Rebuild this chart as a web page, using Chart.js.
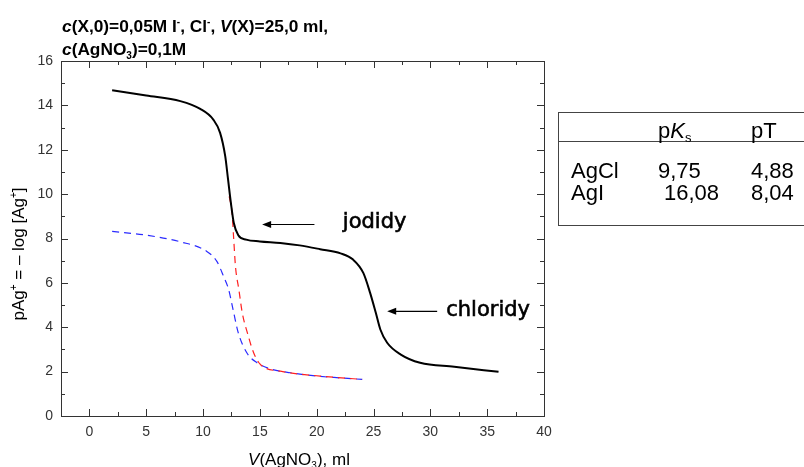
<!DOCTYPE html>
<html>
<head>
<meta charset="utf-8">
<script src="https://cdn.jsdelivr.net/npm/chart.js@4.4.0/dist/chart.umd.min.js"></script>
<style>
  html, body { margin: 0; padding: 0; background: #fff; }
  #wrap { position: relative; width: 804px; height: 467px; overflow: hidden;
          font-family: "Liberation Sans", Arial, sans-serif; color: #000; }
  #chart { position: absolute; left: 0; top: 0; }
  .title { position: absolute; left: 62px; top: 15.5px; font-size: 17.3px; font-weight: bold;
           line-height: 21px; white-space: nowrap; }
  .sup { font-size: 10px; position: relative; top: -7px; }
  .sub { font-size: 10px; position: relative; top: 4px; }
  .ytitle { position: absolute; left: -80px; top: 243px; width: 200px; text-align: center;
            font-size: 17px; line-height: 20px; white-space: nowrap; transform: rotate(-90deg); }
  .xtitle { position: absolute; left: 199px; top: 451px; width: 200px; text-align: center;
            font-size: 17px; line-height: 17px; white-space: nowrap; }
  .tbl { position: absolute; left: 558px; top: 112px; width: 300px; height: 114px;
         border: 1px solid #444; box-sizing: border-box; }
  .tbl-line { position: absolute; left: 558px; top: 141px; width: 260px; height: 1px; background: #444; }
  .cell { position: absolute; font-size: 22px; line-height: 22px; white-space: nowrap; }
</style>
</head>
<body>
<div id="wrap">
  <canvas id="chart" width="804" height="467"></canvas>
  <div class="title"><i>c</i>(X,0)=0,05M I<span class="sup">-</span>, Cl<span class="sup">-</span>, <i>V</i>(X)=25,0 ml,<br><i>c</i>(AgNO<span class="sub">3</span>)=0,1M</div>
  <div class="ytitle">pAg<span class="sup">+</span> = – log [Ag<span class="sup">+</span>]</div>
  <div class="xtitle"><i>V</i>(AgNO<span class="sub">3</span>), ml</div>
  <div class="tbl"></div>
  <div class="tbl-line"></div>
  <div class="cell" style="left:658px; top:119.5px;">p<i>K</i><span class="sub" style="font-size:13px;">s</span></div>
  <div class="cell" style="left:751px; top:119.5px;">pT</div>
  <div class="cell" style="left:571px; top:159.5px;">AgCl</div>
  <div class="cell" style="left:658px; top:159.5px;">9,75</div>
  <div class="cell" style="left:751px; top:159.5px;">4,88</div>
  <div class="cell" style="left:571px; top:182px;">AgI</div>
  <div class="cell" style="left:664px; top:182px;">16,08</div>
  <div class="cell" style="left:751px; top:182px;">8,04</div>
</div>
<script>
// titration of the I- / Cl- mixture (black)
const volMix = [2, 5, 8, 9.75, 10.9, 11.5, 11.95, 12.2, 12.45, 12.7, 13.1, 13.8, 15, 16.8, 18.5,
  20.3, 22.1, 23.2, 24.1, 24.7, 25.2, 25.6, 26.2, 27.4, 29.1, 32.1, 36];
const pAgMix = [14.68, 14.44, 14.19, 13.84, 13.36, 12.76, 11.71, 10.66, 9.6, 8.71, 8.15, 7.95, 7.87, 7.8, 7.69,
  7.52, 7.33, 7.05, 6.45, 5.55, 4.65, 3.9, 3.3, 2.77, 2.4, 2.22, 1.99];

// blue dashed
const volBlue = [2, 5, 8, 10.3, 11.2, 11.8, 12.25, 12.7, 13.1, 13.85, 14.75, 15.9, 17.7, 20, 22, 24];
const pAgBlue = [8.32, 8.15, 7.85, 7.43, 6.98, 6.3, 5.7, 4.65, 3.75, 2.85, 2.4, 2.13, 1.95, 1.8, 1.72, 1.65];

// red dashed
const volRed = [12.3, 12.55, 12.7, 12.85, 13.15, 13.45, 13.9, 14.45, 15.05, 16.8, 20.3, 24];
const pAgRed = [9.9, 9.16, 7.95, 6.75, 5.7, 4.65, 3.75, 2.85, 2.32, 2.02, 1.8, 1.65];

const xMajor = [0, 5, 10, 15, 20, 25, 30, 35, 40];
const xMinor = [2.5, 7.5, 12.5, 17.5, 22.5, 27.5, 32.5, 37.5];
const yMajor = [0, 2, 4, 6, 8, 10, 12, 14, 16];
const yMinor = [1, 3, 5, 7, 9, 11, 13, 15];

// arrows with labels, in data units
const notes = [
  { text: 'jodidy', tip: [15.2, 8.63], tail: [19.8, 8.63], at: [22.3, 8.7] },
  { text: 'chloridy', tip: [26.2, 4.72], tail: [30.6, 4.72], at: [31.4, 4.75] },
];

const toPoints = (xs, ys) => xs.map((x, i) => ({ x, y: ys[i] }));
const tickFont = { family: '"Liberation Sans", Arial, sans-serif', size: 14 };

// frame with inward ticks on all four sides
const frameTicks = {
  id: 'frameTicks',
  afterDraw(chart) {
    const { ctx, chartArea: a, scales: { x, y } } = chart;
    ctx.save();
    ctx.strokeStyle = '#333';
    ctx.lineWidth = 1;
    ctx.strokeRect(Math.round(a.left) + 0.5, Math.round(a.top) + 0.5,
      Math.round(a.right - a.left), Math.round(a.bottom - a.top));
    ctx.beginPath();
    const vx = (v, len) => {
      const px = Math.round(x.getPixelForValue(v)) + 0.5;
      ctx.moveTo(px, a.bottom); ctx.lineTo(px, a.bottom - len);
      ctx.moveTo(px, a.top); ctx.lineTo(px, a.top + len);
    };
    const vy = (v, len) => {
      const py = Math.round(y.getPixelForValue(v)) + 0.5;
      ctx.moveTo(a.left, py); ctx.lineTo(a.left + len, py);
      ctx.moveTo(a.right, py); ctx.lineTo(a.right - len, py);
    };
    xMajor.forEach(v => vx(v, 7));
    xMinor.forEach(v => vx(v, 4));
    yMajor.forEach(v => vy(v, 7));
    yMinor.forEach(v => vy(v, 4));
    ctx.stroke();
    ctx.restore();
  },
};

// arrows pointing at the equivalence regions
const arrowNotes = {
  id: 'arrowNotes',
  afterDatasetsDraw(chart) {
    const { ctx, scales: { x, y } } = chart;
    ctx.save();
    ctx.strokeStyle = '#000';
    ctx.fillStyle = '#000';
    ctx.lineWidth = 1.2;
    notes.forEach(n => {
      const tx = x.getPixelForValue(n.tip[0]), ty = y.getPixelForValue(n.tip[1]);
      const ex = x.getPixelForValue(n.tail[0]), ey = y.getPixelForValue(n.tail[1]);
      ctx.beginPath();
      ctx.moveTo(tx + 6, ty);
      ctx.lineTo(ex, ey);
      ctx.stroke();
      ctx.beginPath();
      ctx.moveTo(tx, ty);
      ctx.lineTo(tx + 9, ty - 3.5);
      ctx.lineTo(tx + 9, ty + 3.5);
      ctx.closePath();
      ctx.fill();
      // heavier strokes, closer to the hand-drawn look of the original labels
      ctx.font = '21px "DejaVu Sans", sans-serif';
      ctx.textBaseline = 'middle';
      ctx.textAlign = 'left';
      const lx = x.getPixelForValue(n.at[0]), ly = y.getPixelForValue(n.at[1]);
      ctx.lineWidth = 0.6;
      ctx.strokeText(n.text, lx, ly);
      ctx.fillText(n.text, lx, ly);
      ctx.lineWidth = 1.2;
    });
    ctx.restore();
  },
};

new Chart(document.getElementById('chart'), {
  type: 'line',
  data: {
    datasets: [
      {
        label: 'I- + Cl-',
        data: toPoints(volMix, pAgMix),
        borderColor: '#000',
        borderWidth: 2,
        pointRadius: 0,
        cubicInterpolationMode: 'monotone',
        order: 0,
      },
      {
        label: 'blue',
        data: toPoints(volBlue, pAgBlue),
        borderColor: '#2b2bff',
        borderWidth: 1.2,
        borderDash: [7, 5],
        pointRadius: 0,
        cubicInterpolationMode: 'monotone',
        order: 2,
      },
      {
        label: 'red',
        data: toPoints(volRed, pAgRed),
        borderColor: '#ff2020',
        borderWidth: 1.2,
        borderDash: [7, 5],
        pointRadius: 0,
        cubicInterpolationMode: 'monotone',
        order: 1,
      },
    ],
  },
  options: {
    responsive: false,
    animation: false,
    layout: { padding: { left: 0, top: 61, right: 260, bottom: 0 } },
    plugins: { legend: { display: false }, tooltip: { enabled: false } },
    scales: {
      x: {
        type: 'linear',
        min: -2.5,
        max: 40,
        grid: { display: false, drawTicks: false },
        border: { display: false },
        afterBuildTicks: s => { s.ticks = xMajor.map(v => ({ value: v })); },
        afterFit: s => { s.height = 51; },
        ticks: { color: '#333', font: tickFont, padding: 8, maxRotation: 0 },
      },
      y: {
        type: 'linear',
        min: 0,
        max: 16,
        grid: { display: false, drawTicks: false },
        border: { display: false },
        afterBuildTicks: s => { s.ticks = yMajor.map(v => ({ value: v })); },
        afterFit: s => { s.width = 61; },
        ticks: { color: '#333', font: tickFont, padding: 8 },
      },
    },
  },
  plugins: [frameTicks, arrowNotes],
});
</script>
</body>
</html>
